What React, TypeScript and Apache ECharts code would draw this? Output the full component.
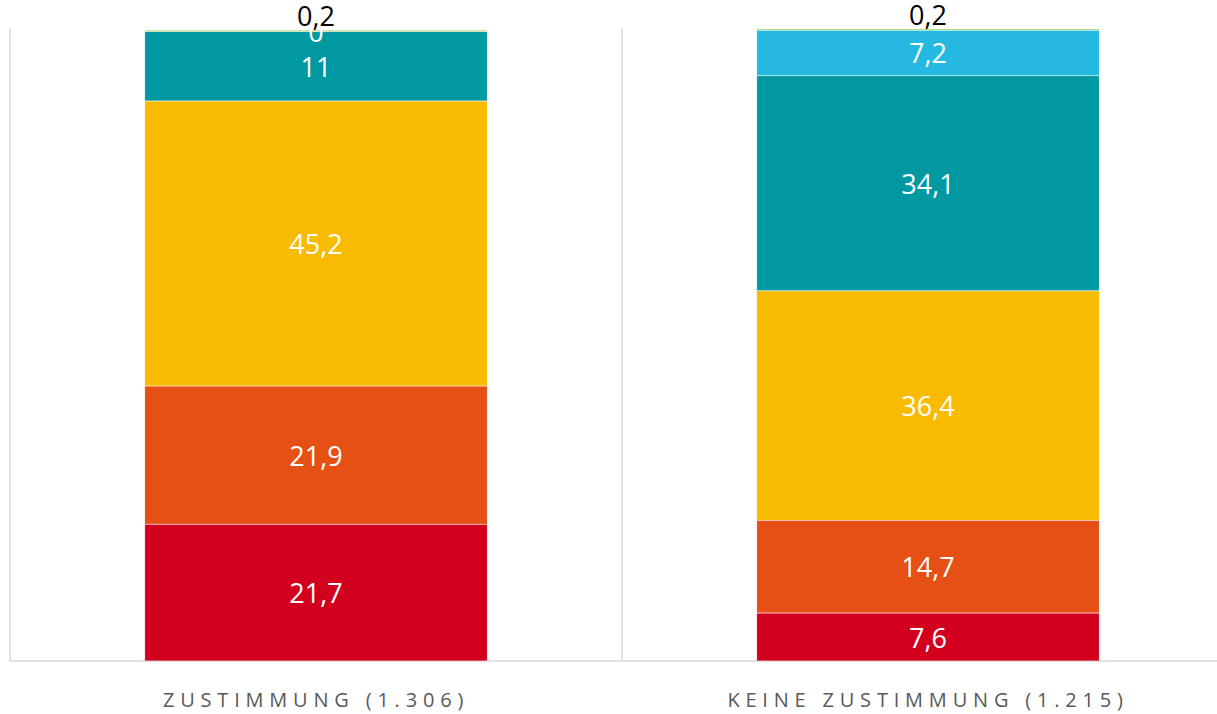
import React, { useEffect, useRef } from "react";
import * as echarts from "echarts";

const categories = ["ZUSTIMMUNG (1.306)", "KEINE ZUSTIMMUNG (1.215)"];
const seriesNames = ["Stufe 1", "Stufe 2", "Stufe 3", "Stufe 4", "Stufe 5", "Stufe 6"];
const seriesColors = ["#D2001E", "#E65014", "#F9BB00", "#0098A1", "#25B9E2", "#86BC25"];
const s1 = [21.7, 7.6];
const s2 = [21.9, 14.7];
const s3 = [45.2, 36.4];
const s4 = [11, 34.1];
const s5 = [0, 7.2];
const s6 = [0.2, 0.2];
const seriesValues = [s1, s2, s3, s4, s5, s6];

const FONT = "'Open Sans', 'Noto Sans', sans-serif";

export default function App() {
  const ref = useRef<HTMLDivElement>(null);
  useEffect(() => {
    if (!ref.current) return;
    const chart = echarts.init(ref.current, null, { renderer: "svg" });
    const fmt = (p: any) => String(p.value).replace(".", ",");
    chart.setOption({
      animation: false,
      backgroundColor: "#FFFFFF",
      grid: { left: 10, top: 29, width: 1224, height: 632 },
      xAxis: {
        type: "category",
        data: categories,
        axisLine: { show: true, lineStyle: { color: "#D9D9D9", width: 1.5 } },
        axisTick: { show: false },
        splitLine: { show: true, lineStyle: { color: "#D9D9D9", width: 1.5 } },
        axisLabel: {
          color: "#595959",
          fontFamily: FONT,
          fontSize: 20,
          margin: 28,
        },
      },
      yAxis: {
        type: "value",
        min: 0,
        max: 100.2,
        show: false,
      },
      series: seriesValues.map((vals, i) => ({
        name: seriesNames[i],
        type: "bar",
        stack: "total",
        data: vals,
        barCategoryGap: "44%",
        itemStyle: { color: seriesColors[i], borderColor: "rgba(255,255,255,0.35)", borderWidth: 0.5 },
        label: i === 5
          ? {
              show: true,
              position: "top",
              distance: 1,
              color: "#000000",
              fontFamily: FONT,
              fontSize: 27,
              formatter: fmt,
            }
          : {
              show: true,
              position: "inside",
              color: "#FFFFFF",
              fontFamily: FONT,
              fontSize: 27,
              formatter: fmt,
            },
      })),
    });
    const texts = ref.current.querySelectorAll("text");
    texts.forEach((t) => {
      if (categories.includes((t.textContent || "").trim())) {
        t.setAttribute("letter-spacing", "5.8");
      }
    });
    return () => chart.dispose();
  }, []);
  return (
    <div
      style={{ position: "absolute", left: 0, top: 0, width: 1217, height: 714, overflow: "hidden" }}
    >
      <div ref={ref} style={{ width: 1240, height: 714 }} />
    </div>
  );
}
